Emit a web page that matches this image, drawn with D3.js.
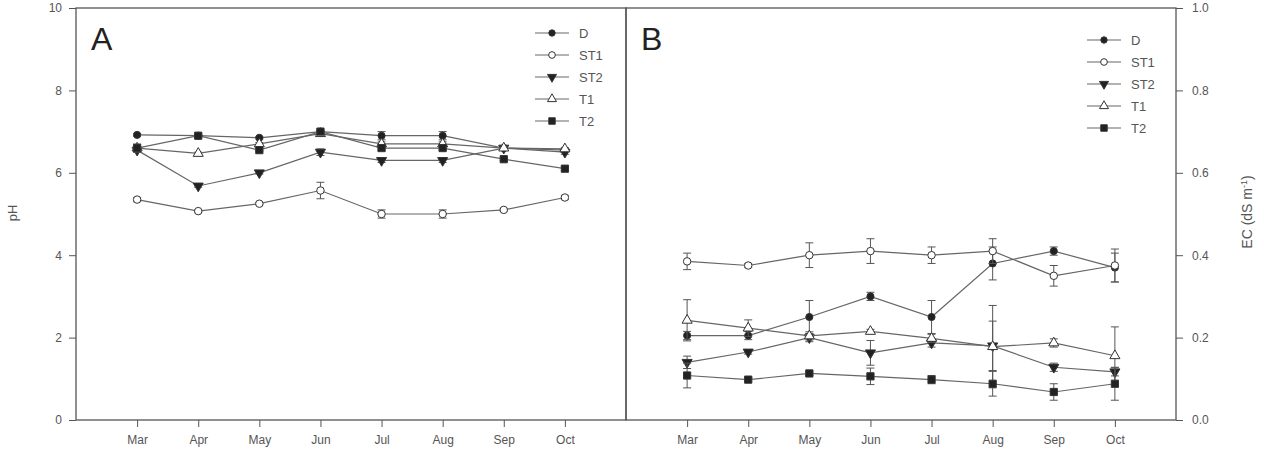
<!DOCTYPE html>
<html>
<head>
<meta charset="utf-8">
<script src="https://cdn.jsdelivr.net/npm/d3@7"></script>
<style>
  body { margin: 0; background: #fff; }
  text { font-family: "Liberation Sans", Arial, sans-serif; fill: #555; }
</style>
</head>
<body>
<svg id="chart"></svg>
<script>
let w = 1264;
let h = 458;

const months = ['Mar', 'Apr', 'May', 'Jun', 'Jul', 'Aug', 'Sep', 'Oct'];
const seriesNames = ['D', 'ST1', 'ST2', 'T1', 'T2'];
const pHTicks = [0, 2, 4, 6, 8, 10];
const ecTicks = [0, 0.2, 0.4, 0.6, 0.8, 1.0];

// pH values (panel A)
const pH_D   = [6.92, 6.9, 6.85, 7.0, 6.9, 6.9, 6.6, 6.55];
const pH_ST1 = [5.35, 5.07, 5.25, 5.57, 5.0, 5.0, 5.1, 5.4];
const pH_ST2 = [6.55, 5.68, 6.0, 6.5, 6.3, 6.3, 6.6, 6.5];
const pH_T1  = [6.6, 6.47, 6.7, 6.95, 6.7, 6.7, 6.6, 6.58];
const pH_T2  = [6.6, 6.9, 6.55, 7.0, 6.6, 6.6, 6.33, 6.1];
// pH error
const pHErr_D   = [0.03, 0.03, 0.03, 0.03, 0.1, 0.1, 0.03, 0.03];
const pHErr_ST1 = [0.05, 0.03, 0.03, 0.2, 0.1, 0.1, 0.03, 0.05];
const pHErr_ST2 = [0.05, 0.03, 0.03, 0.08, 0.05, 0.05, 0.03, 0.05];
const pHErr_T1  = [0.08, 0.03, 0.03, 0.03, 0.05, 0.05, 0.03, 0.03];
const pHErr_T2  = [0.1, 0.03, 0.03, 0.03, 0.05, 0.05, 0.03, 0.05];

// EC values (panel B)
const ec_D   = [0.205, 0.205, 0.25, 0.30, 0.25, 0.38, 0.41, 0.37];
const ec_ST1 = [0.385, 0.375, 0.40, 0.41, 0.40, 0.41, 0.35, 0.375];
const ec_ST2 = [0.14, 0.165, 0.20, 0.163, 0.187, 0.18, 0.128, 0.117];
const ec_T1  = [0.242, 0.223, 0.204, 0.215, 0.198, 0.178, 0.187, 0.156];
const ec_T2  = [0.108, 0.098, 0.113, 0.106, 0.098, 0.088, 0.068, 0.088];
// EC error
const ecErr_D   = [0.01, 0.01, 0.04, 0.01, 0.04, 0.04, 0.01, 0.035];
const ecErr_ST1 = [0.02, 0.005, 0.03, 0.03, 0.02, 0.03, 0.025, 0.04];
const ecErr_ST2 = [0.015, 0.005, 0.01, 0.03, 0.01, 0.06, 0.01, 0.01];
const ecErr_T1  = [0.05, 0.02, 0.01, 0.005, 0.01, 0.1, 0.01, 0.07];
const ecErr_T2  = [0.03, 0.005, 0.005, 0.02, 0.01, 0.03, 0.02, 0.04];

const markerStyle = {
    D:   {shape: d3.symbolCircle,   fill: '#222', size: 40},
    ST1: {shape: d3.symbolCircle,   fill: '#fff', size: 44},
    ST2: {shape: d3.symbolTriangle, fill: '#222', size: 44, flip: true},
    T1:  {shape: d3.symbolTriangle, fill: '#fff', size: 44},
    T2:  {shape: d3.symbolSquare,   fill: '#222', size: 52}
};

const plotTop = 8, plotBottom = 420;
const svg = d3.select('#chart').attr('width', w).attr('height', h);

function makePanel(cfg) {
    let x = d3.scaleLinear().domain([0, months.length + 1]).range([cfg.left, cfg.right]);
    let y = d3.scaleLinear().domain(cfg.domain).range([plotBottom, plotTop]);
    let g = svg.append('g');

    // frame
    g.append('rect')
        .attr('x', cfg.left).attr('y', plotTop)
        .attr('width', cfg.right - cfg.left).attr('height', plotBottom - plotTop)
        .attr('fill', 'none').attr('stroke', '#555').attr('stroke-width', 1.3);

    // x axis
    let xAxis = g.append('g')
        .attr('transform', `translate(0,${plotBottom})`)
        .call(d3.axisBottom(x).tickValues(d3.range(1, months.length + 1))
            .tickFormat((d) => months[d - 1]).tickSize(7).tickPadding(8));
    xAxis.select('.domain').remove();

    // y axis
    let axisFn = cfg.side === 'left' ? d3.axisLeft(y) : d3.axisRight(y);
    let yAxis = g.append('g')
        .attr('transform', `translate(${cfg.side === 'left' ? cfg.left : cfg.right},0)`)
        .call(axisFn.tickValues(cfg.ticks).tickFormat(cfg.fmt).tickSize(7).tickPadding(cfg.pad));
    yAxis.select('.domain').remove();

    g.selectAll('.tick line').attr('stroke', '#555');
    g.selectAll('.tick text').style('font-size', '12px').attr('fill', '#555');

    let line = d3.line().x((d, i) => x(i + 1)).y((d) => y(d));

    cfg.series.forEach((s) => {
        let ms = markerStyle[s.name];
        let sg = g.append('g');

        // error bars
        s.values.forEach((v, i) => {
            let e = s.err[i];
            let cx = x(i + 1);
            sg.append('line')
                .attr('x1', cx).attr('x2', cx)
                .attr('y1', y(v - e)).attr('y2', y(v + e))
                .attr('stroke', '#555').attr('stroke-width', 1);
            [v - e, v + e].forEach((t) => {
                sg.append('line')
                    .attr('x1', cx - 4).attr('x2', cx + 4)
                    .attr('y1', y(t)).attr('y2', y(t))
                    .attr('stroke', '#555').attr('stroke-width', 1);
            });
        });

        sg.append('path')
            .attr('d', line(s.values))
            .attr('fill', 'none')
            .attr('stroke', '#666')
            .attr('stroke-width', 1.2);

        sg.selectAll('path.pt')
            .data(s.values)
            .enter()
            .append('path')
                .attr('class', 'pt')
                .attr('d', d3.symbol().type(ms.shape).size(ms.size))
                .attr('transform', (d, i) => `translate(${x(i + 1)},${y(d)})${ms.flip ? ' rotate(180)' : ''}`)
                .attr('fill', ms.fill)
                .attr('stroke', '#333')
                .attr('stroke-width', 1);
    });

    // legend
    cfg.series.forEach((s, i) => {
        let ms = markerStyle[s.name];
        let ly = cfg.legY + i * 22;
        g.append('line')
            .attr('x1', cfg.legX).attr('x2', cfg.legX + 34)
            .attr('y1', ly).attr('y2', ly)
            .attr('stroke', '#666').attr('stroke-width', 1.2);
        g.append('path')
            .attr('d', d3.symbol().type(ms.shape).size(ms.size * 0.8))
            .attr('transform', `translate(${cfg.legX + 17},${ly})${ms.flip ? ' rotate(180)' : ''}`)
            .attr('fill', ms.fill)
            .attr('stroke', '#333');
        g.append('text')
            .attr('x', cfg.legX + 44).attr('y', ly + 4.5)
            .text(s.name)
            .style('font-size', '13px')
            .style('fill', '#555');
    });

    // panel letter
    g.append('text')
        .attr('x', cfg.left + 15).attr('y', 50)
        .text(cfg.letter)
        .style('font-size', '32px')
        .style('fill', '#222');
}

makePanel({
    left: 76, right: 626, side: 'left', domain: [0, 10], ticks: pHTicks,
    fmt: d3.format('d'), letter: 'A', legX: 535, legY: 33, pad: 7,
    series: [
        {name: 'D', values: pH_D, err: pHErr_D},
        {name: 'ST1', values: pH_ST1, err: pHErr_ST1},
        {name: 'ST2', values: pH_ST2, err: pHErr_ST2},
        {name: 'T1', values: pH_T1, err: pHErr_T1},
        {name: 'T2', values: pH_T2, err: pHErr_T2}
    ]
});

makePanel({
    left: 626, right: 1176, side: 'right', domain: [0, 1], ticks: ecTicks,
    fmt: d3.format('.1f'), letter: 'B', legX: 1087, legY: 40, pad: 9,
    series: [
        {name: 'D', values: ec_D, err: ecErr_D},
        {name: 'ST1', values: ec_ST1, err: ecErr_ST1},
        {name: 'ST2', values: ec_ST2, err: ecErr_ST2},
        {name: 'T1', values: ec_T1, err: ecErr_T1},
        {name: 'T2', values: ec_T2, err: ecErr_T2}
    ]
});

// axis titles
svg.append('text')
    .attr('transform', 'translate(17,213) rotate(-90)')
    .style('text-anchor', 'middle').style('font-size', '13px')
    .text('pH');

let ecTitle = svg.append('text')
    .attr('transform', 'translate(1252,212) rotate(-90)')
    .style('text-anchor', 'middle').style('font-size', '14px');
ecTitle.append('tspan').text('EC (dS m');
ecTitle.append('tspan').attr('dy', -5).style('font-size', '9px').text('-1');
ecTitle.append('tspan').attr('dy', 5).text(')');
</script>
</body>
</html>
